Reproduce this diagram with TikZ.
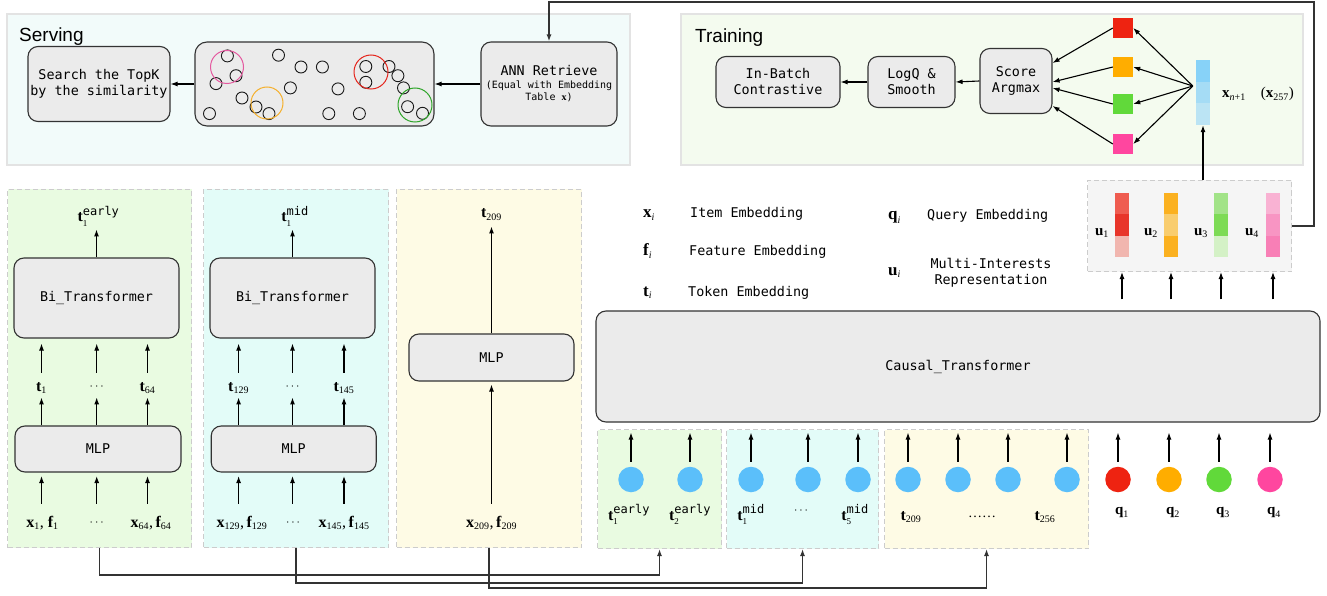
\documentclass[tikz,border=0pt]{standalone}
\usepackage{fontspec}
\setmainfont{Liberation Serif}
\newfontfamily\monof{DejaVu Sans Mono}
\newfontfamily\sansf{Liberation Sans}
\usetikzlibrary{arrows.meta,calc}
\definecolor{servfill}{HTML}{F2FBFA}
\definecolor{trainfill}{HTML}{F4FBEF}
\definecolor{panelline}{HTML}{E3E3E3}
\definecolor{boxfill}{HTML}{EBEBEB}
\definecolor{boxline}{HTML}{333333}
\definecolor{gfill}{HTML}{E9FBE1}
\definecolor{cfill}{HTML}{E3FCF8}
\definecolor{yfill}{HTML}{FEFBE5}
\definecolor{dashgray}{HTML}{CCCCCC}
\definecolor{uboxfill}{HTML}{F5F5F5}
\definecolor{tokblue}{HTML}{5BBFFA}
\definecolor{qred}{HTML}{EE2311}
\definecolor{qorange}{HTML}{FFAD00}
\definecolor{qgreen}{HTML}{61D93A}
\definecolor{qpink}{HTML}{FF469F}
\definecolor{xbA}{HTML}{87D2F8}
\definecolor{xbB}{HTML}{A5DCF5}
\definecolor{xbC}{HTML}{BBE4F4}
\definecolor{uAa}{HTML}{EF5C50}\definecolor{uAb}{HTML}{E8352A}\definecolor{uAc}{HTML}{F1B6AF}
\definecolor{uBa}{HTML}{FBB120}\definecolor{uBb}{HTML}{F9CD6E}\definecolor{uBc}{HTML}{FBB120}
\definecolor{uCa}{HTML}{A2E388}\definecolor{uCb}{HTML}{7DDB55}\definecolor{uCc}{HTML}{D4F1C6}
\definecolor{uDa}{HTML}{F9B2D3}\definecolor{uDb}{HTML}{F895C3}\definecolor{uDc}{HTML}{F87FB6}
\definecolor{cpink}{HTML}{E4599F}
\definecolor{corange}{HTML}{F5B02C}
\definecolor{cred}{HTML}{E5261D}
\definecolor{cgreen}{HTML}{2FA52A}
\newcommand{\bsub}[2]{$\mbox{\bfseries #1}_{\mbox{\normalfont\fontsize{10}{10}\selectfont #2}}$}
\newcommand{\tss}[2]{$\mbox{\bfseries t}^{\mbox{\monof\fontsize{12}{12}\selectfont #1}}_{\mbox{\normalfont\fontsize{9}{9}\selectfont #2}}$}
\begin{document}
\begin{tikzpicture}[x=1pt,y=-1pt,
 arr/.style={draw=black, line width=1.1pt, -{Latex[length=7pt,width=5pt]}},
 conn/.style={draw=black!80, line width=1.3pt, -{Latex[length=7pt,width=5pt]}},
 gbox/.style={draw=boxline, fill=boxfill, rounded corners=10pt, line width=1.1pt, inner sep=0pt, align=center, font=\monof\fontsize{13.4}{16}\selectfont},
 spanel/.style={draw=panelline, line width=2pt, inner sep=0pt, anchor=north west},
 dpanel/.style={draw=dashgray, line width=1pt, dash pattern=on 5pt off 3pt, inner sep=0pt, anchor=north west},
 lab/.style={inner sep=0pt, anchor=base, font=\fontsize{16}{18}\selectfont},
 slab/.style={inner sep=0pt, anchor=base, font=\fontsize{15}{17}\selectfont},
 leg/.style={inner sep=0pt, anchor=base west, font=\monof\fontsize{13.4}{16}\selectfont},
 sq/.style={inner sep=0pt, minimum size=20pt},
 tokc/.style={circle, inner sep=0pt, minimum size=25.5pt},
 smallc/.style={draw=black!90, line width=0.9pt},
 bigc/.style={line width=1pt},
 dotsl/.style={inner sep=0pt, font=\fontsize{12}{12}\selectfont},
]
\useasboundingbox (0,0) rectangle (1327,596);

% ---------------- Serving ----------------
\node[spanel, fill=servfill, minimum width=623pt, minimum height=151pt] (serv) at (6,13) {};
\node[inner sep=0pt, anchor=base west, font=\sansf\fontsize{19}{21}\selectfont] (servlab) at (19,42) {Serving};
\node[gbox, minimum width=142pt, minimum height=75pt] (search) at (99,84) {Search the TopK\\by the similarity};
\node[gbox, rounded corners=12pt, minimum width=239pt, minimum height=84pt] (clus) at (314.5,84) {};
\node[gbox, minimum width=136pt, minimum height=84pt, font=\monof\fontsize{10}{12.5}\selectfont] (ann) at (549,84)
 {{\fontsize{13.4}{16}\selectfont ANN Retrieve}\\(Equal with Embedding\\Table {\rmfamily\bfseries x})};
\foreach \p in {(227.4,55.9),(236,75.7),(216,83.6),(278.5,55.2),(301,67),(322.4,67),(290.4,87.9),(338,88.9),(242,98),(256,107),(269,113.6),(209.5,113.6),(328.8,113.6),(359.4,113.6),(365.8,66.5),(365.8,82.3),(389,66.5),(397.9,75.7),(403.5,87.9),(407.6,106.7),(422.5,113.3)}
  \draw[smallc] \p circle[radius=6pt];
\draw[bigc, draw=cpink] (227,67) circle[radius=16.5pt];
\draw[bigc, draw=corange] (267,103) circle[radius=16pt];
\draw[bigc, draw=cred] (371,72) circle[radius=17pt];
\draw[bigc, draw=cgreen] (415,105) circle[radius=17pt];
\draw[arr] (ann.west) -- (clus.east);
\draw[arr] (clus.west) -- (search.east);

% ---------------- Training ----------------
\node[spanel, fill=trainfill, minimum width=622pt, minimum height=151pt] (train) at (680,13) {};
\node[inner sep=0pt, anchor=base west, font=\sansf\fontsize{19}{21}\selectfont] (trainlab) at (695,43) {Training};
\node[gbox, minimum width=124pt, minimum height=51pt] (inb) at (778,82) {In-Batch\\Contrastive};
\node[gbox, minimum width=87pt, minimum height=51pt] (logq) at (911.5,82) {LogQ \&\\Smooth};
\node[gbox, minimum width=72pt, minimum height=65pt] (score) at (1016,81) {Score\\Argmax};
\draw[arr] (score.west) -- (logq.east);
\draw[arr] (logq.west) -- (inb.east);
\node[sq, fill=qred] (rsq) at (1123,28) {};
\node[sq, fill=qorange] (osq) at (1123,67) {};
\node[sq, fill=qgreen] (gsq) at (1123,104) {};
\node[sq, fill=qpink] (psq) at (1123,144) {};
\node[inner sep=0pt, minimum width=14pt, minimum height=65pt] (xb) at (1203,92.5) {};
\fill[xbA] (1196,60) rectangle (1210,81.7);
\fill[xbB] (1196,81.7) rectangle (1210,103.3);
\fill[xbC] (1196,103.3) rectangle (1210,125);
\node[slab, anchor=base west] (xlab) at (1222,98) {\bsub{x}{\itshape n\upshape +1}\quad($\mbox{\bfseries x}_{\mbox{\fontsize{10}{10}\selectfont 257}}$)};
\coordinate (xs) at ($(xb.west)+(-3,-6.5)$);
\draw[arr] (xs) -- (rsq.east);
\draw[arr] (xs) -- (osq.east);
\draw[arr] (xs) -- (gsq.east);
\draw[arr] (xs) -- (psq.east);
\draw[arr] (rsq.west) -- ([yshift=18pt]score.east);
\draw[arr] (osq.west) -- ([yshift=-1pt]score.east);
\draw[arr] (gsq.west) -- ([yshift=-7pt]score.east);
\draw[arr] (psq.west) -- ([yshift=-25pt]score.east);

% ---------------- u box ----------------
\node[dpanel, fill=uboxfill, minimum width=204pt, minimum height=91pt] (ubox) at (1087,180) {};
\node[inner sep=0pt, minimum width=14pt, minimum height=64pt] (ub1) at (1122,225) {};
\node[inner sep=0pt, minimum width=14pt, minimum height=64pt] (ub2) at (1171,225) {};
\node[inner sep=0pt, minimum width=14pt, minimum height=64pt] (ub3) at (1221,225) {};
\node[inner sep=0pt, minimum width=14pt, minimum height=64pt] (ub4) at (1273,225) {};
\fill[uAa] (1115,193) rectangle (1129,214.3);
\fill[uAb] (1115,214.3) rectangle (1129,235.7);
\fill[uAc] (1115,235.7) rectangle (1129,257);
\fill[uBa] (1164,193) rectangle (1178,214.3);
\fill[uBb] (1164,214.3) rectangle (1178,235.7);
\fill[uBc] (1164,235.7) rectangle (1178,257);
\fill[uCa] (1214,193) rectangle (1228,214.3);
\fill[uCb] (1214,214.3) rectangle (1228,235.7);
\fill[uCc] (1214,235.7) rectangle (1228,257);
\fill[uDa] (1266,193) rectangle (1280,214.3);
\fill[uDb] (1266,214.3) rectangle (1280,235.7);
\fill[uDc] (1266,235.7) rectangle (1280,257);
\node[slab] (ul1) at (1102,235) {\bsub{u}{1}};
\node[slab] (ul2) at (1151,235) {\bsub{u}{2}};
\node[slab] (ul3) at (1201,235) {\bsub{u}{3}};
\node[slab] (ul4) at (1252,235) {\bsub{u}{4}};
\draw[arr] (xb.south |- ubox.north) -- (xb.south);
\coordinate (tr) at (1314,2);
\draw[conn] (ubox.east) -| (tr) -| (ann.north);

% ---------------- Legend ----------------
\node[lab, anchor=base west, font=\fontsize{17}{19}\selectfont] (lx) at (643,218) {\bsub{x}{\itshape i}};
\node[lab, anchor=base west, font=\fontsize{17}{19}\selectfont] (lf) at (643,255.5) {\bsub{f}{\itshape i}};
\node[lab, anchor=base west, font=\fontsize{17}{19}\selectfont] (lt) at (643,296) {\bsub{t}{\itshape i}};
\node[leg] (lxt) at (690,218) {Item Embedding};
\node[leg] (lft) at (689,255.5) {Feature Embedding};
\node[leg] (ltt) at (688,296) {Token Embedding};
\node[lab, anchor=base west, font=\fontsize{17}{19}\selectfont] (lq) at (888,219) {\bsub{q}{\itshape i}};
\node[lab, anchor=base west, font=\fontsize{17}{19}\selectfont] (lu) at (888,275) {\bsub{u}{\itshape i}};
\node[leg] (lqt) at (927,219) {Query Embedding};
\node[inner sep=0pt, align=center, font=\monof\fontsize{13.4}{15.5}\selectfont] (lut) at (991,273) {Multi-Interests\\Representation};

% ---------------- Causal ----------------
\node[gbox, minimum width=724pt, minimum height=111pt] (causal) at (958,366.5) {Causal\_Transformer};
\foreach \u in {ub1,ub2,ub3,ub4}
  \draw[arr] ($(\u |- causal.north)+(0,-11)$) -- (\u |- ubox.south);

% ---------------- Token panels ----------------
\node[dpanel, fill=gfill, minimum width=124pt, minimum height=119pt] (tg) at (597,429) {};
\node[dpanel, fill=cfill, minimum width=152pt, minimum height=119pt] (tc) at (726,429) {};
\node[dpanel, fill=yfill, minimum width=204pt, minimum height=119pt] (ty) at (884,429) {};
\node[tokc, fill=tokblue] (c1) at (631,479.5) {};
\node[tokc, fill=tokblue] (c2) at (690,479.5) {};
\node[tokc, fill=tokblue] (c3) at (751,479.5) {};
\node[tokc, fill=tokblue] (c4) at (808,479.5) {};
\node[tokc, fill=tokblue] (c5) at (858,479.5) {};
\node[tokc, fill=tokblue] (c6) at (908,479.5) {};
\node[tokc, fill=tokblue] (c7) at (958,479.5) {};
\node[tokc, fill=tokblue] (c8) at (1008,479.5) {};
\node[tokc, fill=tokblue] (c9) at (1067,479.5) {};
\node[tokc, fill=qred] (q1) at (1118,479.5) {};
\node[tokc, fill=qorange] (q2) at (1169,479.5) {};
\node[tokc, fill=qgreen] (q3) at (1219,479.5) {};
\node[tokc, fill=qpink] (q4) at (1270,479.5) {};
\foreach \c in {c1,c2,c3,c4,c5,c6,c7,c8,c9,q1,q2,q3,q4}
  \draw[arr] ($(\c.north)+(0,-5)$) -- ($(\c.north |- causal.south)+(0,10)$);
\node[lab] (tl1) at (629,520) {\tss{early}{1}};
\node[lab] (tl2) at (690,520) {\tss{early}{2}};
\node[lab] (tl3) at (751,520) {\tss{mid}{1}};
\node[dotsl] (tdots1) at (801,511) {$\cdots$};
\node[lab] (tl4) at (855,520) {\tss{mid}{5}};
\node[lab] (tl5) at (911,520) {\bsub{t}{209}};
\node[inner sep=0pt, anchor=base, font=\fontsize{14}{14}\selectfont] (tdots2) at (982,517) {……};
\node[lab] (tl6) at (1045,520) {\bsub{t}{256}};
\node[slab] (ql1) at (1122,514) {\bsub{q}{1}};
\node[slab] (ql2) at (1173,514) {\bsub{q}{2}};
\node[slab] (ql3) at (1223,514) {\bsub{q}{3}};
\node[slab] (ql4) at (1274,514) {\bsub{q}{4}};

% ---------------- Bottom-left panels ----------------
\node[dpanel, fill=gfill, minimum width=184pt, minimum height=358pt] (gp) at (7,189) {};
\node[dpanel, fill=cfill, minimum width=185pt, minimum height=358pt] (cp) at (203,189) {};
\node[dpanel, fill=yfill, minimum width=185pt, minimum height=358pt] (yp) at (396,189) {};

% green
\node[lab] (te) at (98.5,222) {\tss{early}{1}};
\node[gbox, minimum width=165pt, minimum height=80pt] (bi1) at (96.5,298) {Bi\_Transformer};
\node[gbox, minimum width=166pt, minimum height=46pt] (mlp1) at (98,449) {MLP};
\node[lab] (ta1) at (41.5,391) {\bsub{t}{1}};
\node[dotsl] (da1) at (96.7,387) {$\cdots$};
\node[lab] (ta2) at (147.5,391) {\bsub{t}{64}};
\node[lab] (xa1) at (42.5,527) {\bsub{x}{1}, \bsub{f}{1}};
\node[dotsl] (dx1) at (96.7,523) {$\cdots$};
\node[lab] (xa2) at (151,527) {\bsub{x}{64},\,\bsub{f}{64}};
\draw[arr] (bi1.north) -- ++(0,-28);
\foreach \n in {ta1,da1,ta2}{
  \draw[arr] ($(bi1.south -| \n)+(0,34)$) -- ($(bi1.south -| \n)+(0,5)$);
  \draw[arr] (mlp1.north -| \n) -- ($(mlp1.north -| \n)+(0,-28)$);
  \draw[arr] ($(mlp1.south -| \n)+(0,31)$) -- ($(mlp1.south -| \n)+(0,3.5)$);
}

% cyan
\node[lab] (tm) at (295,222) {\tss{mid}{1}};
\node[gbox, minimum width=165pt, minimum height=80pt] (bi2) at (292.5,298) {Bi\_Transformer};
\node[gbox, minimum width=165pt, minimum height=46pt] (mlp2) at (293.7,449) {MLP};
\node[lab] (tb1) at (238.6,391) {\bsub{t}{129}};
\node[dotsl] (db1) at (292.5,387) {$\cdots$};
\node[lab] (tb2) at (344,391) {\bsub{t}{145}};
\node[lab] (xb1) at (242,527) {\bsub{x}{129},\,\bsub{f}{129}};
\node[dotsl] (dx2) at (293,523) {$\cdots$};
\node[lab] (xb2) at (344,527) {\bsub{x}{145},\,\bsub{f}{145}};
\draw[arr] (bi2.north) -- ++(0,-28);
\foreach \n in {tb1,db1,tb2}{
  \draw[arr] ($(bi2.south -| \n)+(0,34)$) -- ($(bi2.south -| \n)+(0,5)$);
  \draw[arr] (mlp2.north -| \n) -- ($(mlp2.north -| \n)+(0,-28)$);
  \draw[arr] ($(mlp2.south -| \n)+(0,31)$) -- ($(mlp2.south -| \n)+(0,3.5)$);
}

% yellow
\node[lab] (t209) at (491.5,218) {\bsub{t}{209}};
\node[gbox, minimum width=165pt, minimum height=47pt] (mlp3) at (491.5,357.5) {MLP};
\node[lab] (x209) at (491.5,527) {\bsub{x}{209},\,\bsub{f}{209}};
\draw[arr] (mlp3.north) -- ++(0,-107);
\draw[arr] ($(mlp3.south)+(0,122)$) -- ($(mlp3.south)+(0,3)$);

% bottom connectors
\draw[conn] (gp.south) -- ++(0,27) -| (tg.south);
\draw[conn] (cp.south) -- ++(0,35) -| (tc.south);
\draw[conn] (yp.south) -- ++(0,40) -| (ty.south);
\end{tikzpicture}
\end{document}
